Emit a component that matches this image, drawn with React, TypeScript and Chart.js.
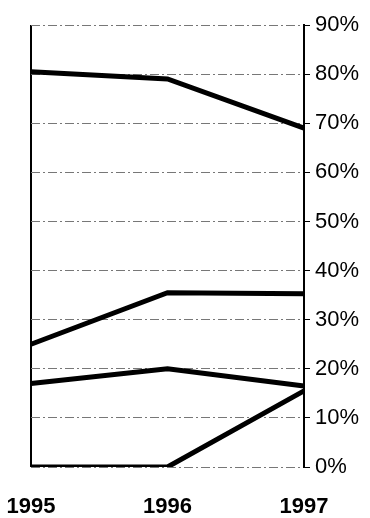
import React, { useEffect, useRef } from "react";
import { Chart, registerables } from "chart.js";

Chart.register(...registerables);

const years = ["1995", "1996", "1997"];
const seriesA = [80.5, 79, 69];
const seriesB = [25, 35.5, 35.3];
const seriesC = [17, 20, 16.5];
const seriesD = [0, 0, 15.5];
const yTicks = [0, 10, 20, 30, 40, 50, 60, 70, 80, 90];

export default function App() {
  const ref = useRef<HTMLCanvasElement | null>(null);
  useEffect(() => {
    if (!ref.current) return;
    const mk = (data: number[]) => ({
      data,
      borderColor: "#000",
      borderWidth: 5,
      pointRadius: 0,
      tension: 0,
      fill: false,
    });
    const chart = new Chart(ref.current, {
      type: "line",
      data: {
        labels: years,
        datasets: [mk(seriesA), mk(seriesB), mk(seriesC), mk(seriesD)],
      },
      options: {
        responsive: false,
        animation: false,
        plugins: { legend: { display: false }, tooltip: { enabled: false } },
        layout: { padding: { left: 31, top: 25, right: 0, bottom: 0 } },
        scales: {
          x: {
            offset: false,
            border: { display: false },
            grid: {
              drawTicks: false,
              color: (c: any) => (c.index === 0 ? "#000" : "rgba(0,0,0,0)"),
              lineWidth: 2,
            },
            ticks: {
              color: "#000",
              padding: 27,
              maxRotation: 0,
              font: { family: "Liberation Sans", size: 22, weight: "bold" },
            },
            afterFit: (s: any) => {
              s.height = 51;
              s.paddingLeft = 0;
              s.paddingRight = 0;
            },
          },
          y: {
            position: "right",
            min: 0,
            max: 90,
            afterBuildTicks: (s: any) => {
              s.ticks = yTicks.map((v) => ({ value: v }));
            },
            border: { display: true, color: "#000", width: 2, dash: [9, 3, 2, 3] },
            grid: {
              color: "#777",
              lineWidth: 1,
              drawTicks: true,
              tickLength: 6,
              tickColor: "#000",
            },
            ticks: {
              color: "#000",
              padding: 5,
              callback: (v: any) => v + "%",
              font: { family: "Liberation Sans", size: 22 },
            },
            afterFit: (s: any) => {
              s.width = 66;
              s.paddingTop = 0;
              s.paddingBottom = 0;
            },
          },
        },
      } as any,
    });
    return () => chart.destroy();
  }, []);
  return (
    <div style={{ position: "fixed", left: 0, top: 0, width: 370, height: 518, background: "#fff" }}>
      <canvas ref={ref} width={370} height={518} />
    </div>
  );
}
